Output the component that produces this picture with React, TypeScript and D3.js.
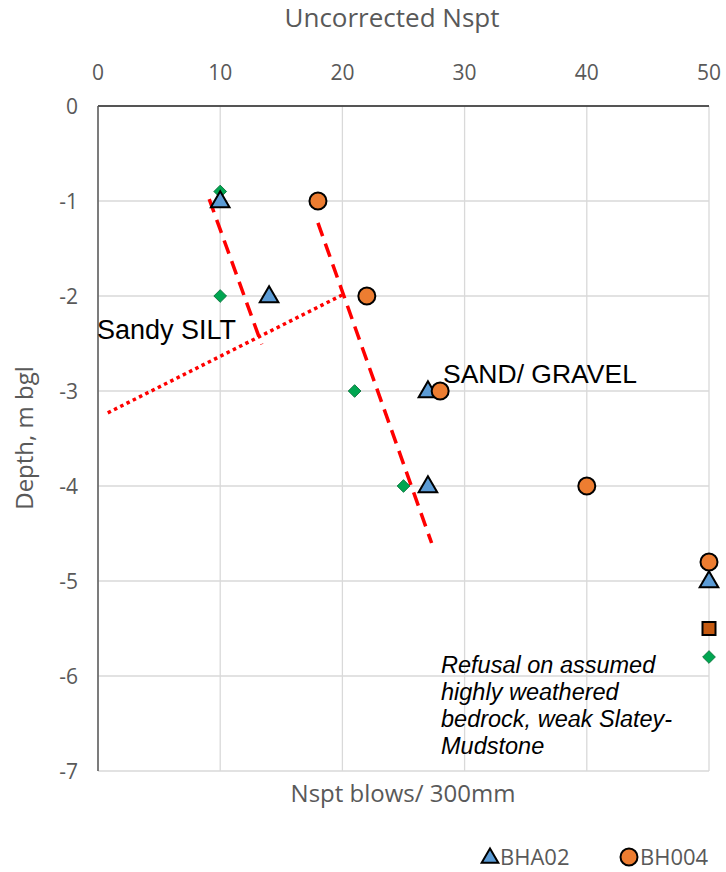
import React from "react";
import * as d3 from "d3";

const xTicks = [0, 10, 20, 30, 40, 50];
const yTicks = [0, -1, -2, -3, -4, -5, -6, -7];

const bha02X = [10, 14, 27, 27, 50];
const bha02Y = [-1, -2, -3, -4, -5];
const bh004X = [18, 22, 28, 40, 50];
const bh004Y = [-1, -2, -3, -4, -4.8];
const greenX = [10, 10, 21, 25, 50];
const greenY = [-0.9, -2, -3, -4, -5.8];
const squareX = [50];
const squareY = [-5.5];

const dash1 = [[9.1, -0.98], [13.4, -2.51]];
const dash2 = [[18.0, -1.23], [27.3, -4.6]];
const dotted = [[0.8, -3.23], [19.97, -1.99]];

const refusalLines = ["Refusal on assumed", "highly weathered", "bedrock, weak Slatey-", "Mudstone"];

export default function App() {
  const W = 726, H = 872;
  const x = d3.scaleLinear().domain([0, 50]).range([98, 709]);
  const y = d3.scaleLinear().domain([0, -7]).range([106, 771]);
  const line = d3.line<number[]>().x(d => x(d[0])).y(d => y(d[1]));
  const font = "'Open Sans', 'Liberation Sans', sans-serif";
  const arial = "'Liberation Sans', Arial, sans-serif";
  const tri = d3.symbol().type(d3.symbolTriangle).size(150)();
  const triL = d3.symbol().type(d3.symbolTriangle).size(120)();

  return (
    <svg width={W} height={H} style={{ position: "absolute", left: 0, top: 0 }}>
      <rect width={W} height={H} fill="#fff" />
      {xTicks.map(t => (
        <line key={"gx" + t} x1={x(t)} x2={x(t)} y1={y(0)} y2={y(-7)} stroke="#d9d9d9" strokeWidth={1.3} />
      ))}
      {yTicks.map(t => (
        <line key={"gy" + t} x1={x(0)} x2={x(50)} y1={y(t)} y2={y(t)} stroke="#d9d9d9" strokeWidth={1.3} />
      ))}
      <line x1={x(0)} x2={x(50)} y1={y(0)} y2={y(0)} stroke="#262626" strokeWidth={1.5} />
      <line x1={x(0)} x2={x(0)} y1={y(0)} y2={y(-7)} stroke="#595959" strokeWidth={1.5} />

      {xTicks.map(t => (
        <text key={"tx" + t} x={x(t)} y={80} textAnchor="middle" fontFamily={font} fontSize={21} fill="#595959">{t}</text>
      ))}
      {yTicks.map(t => (
        <text key={"ty" + t} x={78} y={y(t) + 7.5} textAnchor="end" fontFamily={font} fontSize={21} fill="#595959">{t === 0 ? "0" : "-" + Math.abs(t)}</text>
      ))}
      <text x={392} y={27} textAnchor="middle" fontFamily={font} fontSize={26} fill="#595959">Uncorrected Nspt</text>
      <text x={403} y={802} textAnchor="middle" fontFamily={font} fontSize={24} fill="#595959">Nspt blows/ 300mm</text>
      <text transform="translate(33,438) rotate(-90)" textAnchor="middle" fontFamily={font} fontSize={24} fill="#595959">Depth, m bgl</text>

      <path d={line(dash1 as any) || ""} stroke="#ff0000" strokeWidth={3.5} strokeDasharray="14,8" fill="none" />
      <path d={line(dash2 as any) || ""} stroke="#ff0000" strokeWidth={3.5} strokeDasharray="14,8" fill="none" />
      <path d={line(dotted as any) || ""} stroke="#ff0000" strokeWidth={3.5} strokeDasharray="3.5,3.5" fill="none" />

      {greenX.map((v, i) => (
        <rect key={"g" + i} x={-4.5} y={-4.5} width={9} height={9} fill="#00a651" stroke="#006b33" strokeWidth={0.8}
          transform={`translate(${x(v)},${y(greenY[i])}) rotate(45)`} />
      ))}
      {squareX.map((v, i) => (
        <rect key={"s" + i} x={x(v) - 6.5} y={y(squareY[i]) - 6.5} width={13} height={13} fill="#c55a11" stroke="#000" strokeWidth={2} />
      ))}
      {bha02X.map((v, i) => (
        <path key={"t" + i} d={tri || ""} transform={`translate(${x(v)},${y(bha02Y[i]) + 1})`} fill="#5b9bd5" stroke="#000" strokeWidth={2} />
      ))}
      {bh004X.map((v, i) => (
        <circle key={"c" + i} cx={x(v)} cy={y(bh004Y[i])} r={8.5} fill="#ed7d31" stroke="#000" strokeWidth={2} />
      ))}

      <text x={97} y={339} fontFamily={arial} fontSize={27} fill="#000">Sandy SILT</text>
      <text x={443} y={383} fontFamily={arial} fontSize={26.5} fill="#000">SAND/ GRAVEL</text>
      {refusalLines.map((s, i) => (
        <text key={"r" + i} x={441} y={673 + i * 27} fontFamily={arial} fontStyle="italic" fontSize={23.5} fill="#000">{s}</text>
      ))}

      <path d={triL || ""} transform={`translate(490,858)`} fill="#5b9bd5" stroke="#000" strokeWidth={2} />
      <text x={500} y={865} fontFamily={font} fontSize={22} fill="#595959">BHA02</text>
      <circle cx={629} cy={857} r={8.5} fill="#ed7d31" stroke="#000" strokeWidth={2} />
      <text x={640} y={865} fontFamily={font} fontSize={22} fill="#595959">BH004</text>
    </svg>
  );
}
